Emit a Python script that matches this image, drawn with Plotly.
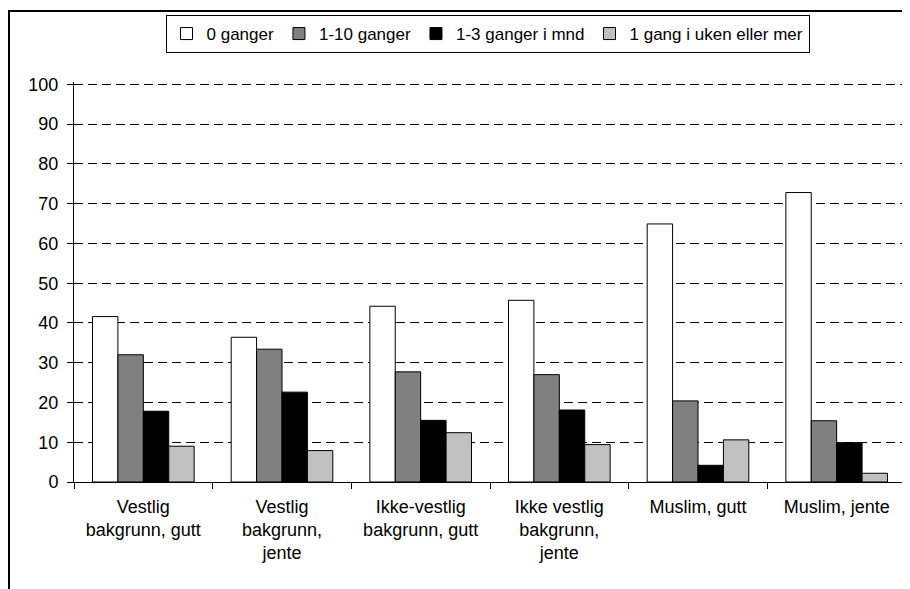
import plotly.graph_objects as go

categories = [
    "Vestlig<br>bakgrunn, gutt",
    "Vestlig<br>bakgrunn,<br>jente",
    "Ikke-vestlig<br>bakgrunn, gutt",
    "Ikke vestlig<br>bakgrunn,<br>jente",
    "Muslim, gutt",
    "Muslim, jente",
]
series_names = ["0 ganger", "1-10 ganger", "1-3 ganger i mnd", "1 gang i uken eller mer"]
v_0_ganger = [41.6, 36.4, 44.2, 45.7, 64.9, 72.8]
v_1_10_ganger = [32.0, 33.4, 27.7, 27.0, 20.4, 15.4]
v_1_3_mnd = [17.8, 22.6, 15.5, 18.1, 4.2, 9.9]
v_1_uke = [9.0, 7.9, 12.4, 9.4, 10.6, 2.2]
series_values = [v_0_ganger, v_1_10_ganger, v_1_3_mnd, v_1_uke]
colors = ["#FFFFFF", "#808080", "#000000", "#C0C0C0"]
y_ticks = list(range(0, 101, 10))

FONT = "Liberation Sans, Arial, sans-serif"

fig = go.Figure()
for name, vals, col in zip(series_names, series_values, colors):
    fig.add_trace(go.Bar(
        x=categories, y=vals, name=name,
        marker=dict(color=col, line=dict(color="#000000", width=1)),
    ))

# The page has an 8px body margin, so figure coords = screen coords - 8.
OFF = 8
W, H = 910, 589
Y_TOP = 100.6
# target on screen: x 74..906, value 0 at y=482, value 100 at y=84
scale = (482 - 84) / 100.0
plot_top_screen = 482 - Y_TOP * scale
l = 74 - OFF
t = int(round(plot_top_screen - OFF))
r = W - (906 - OFF)
b = H - (482 - OFF)
pw = W - l - r
ph = H - t - b

def sx(px):
    return (px - OFF - l) / pw

def sy(py):
    return 1 + (t - (py - OFF)) / ph

fig.add_shape(
    type="rect", xref="paper", yref="paper",
    x0=sx(9), x1=sx(960),
    y0=sy(700), y1=sy(11),
    line=dict(color="#000000", width=2), fillcolor="rgba(0,0,0,0)", layer="below",
)

fig.update_layout(
    width=W, height=H,
    margin=dict(l=l, r=r, t=t, b=b, autoexpand=False),
    paper_bgcolor="white", plot_bgcolor="white",
    font=dict(family=FONT, size=18, color="#000000"),
    barmode="group", bargap=0.267, bargroupgap=0,
    showlegend=True,
    legend=dict(
        orientation="h", x=sx(487.5), xanchor="center",
        y=sy(15), yanchor="top",
        bordercolor="#000000", borderwidth=1, bgcolor="white",
        font=dict(family=FONT, size=17, color="#000000"),
        itemwidth=30, tracegroupgap=0,
    ),
    xaxis=dict(
        showline=True, linecolor="#000000", linewidth=1,
        ticks="outside", ticklen=6, tickcolor="#000000", tickson="boundaries",
        tickfont=dict(family=FONT, size=18, color="#000000"),
        ticklabelstandoff=8,
        showgrid=False, mirror=False, fixedrange=True,
    ),
    yaxis=dict(
        range=[0, Y_TOP], tickvals=y_ticks, ticktext=[str(v) for v in y_ticks],
        showline=True, linecolor="#000000", linewidth=1,
        ticks="outside", ticklen=6, tickcolor="#000000",
        showgrid=True, gridcolor="#000000", gridwidth=1, griddash="9px,5px",
        zeroline=False,
        tickfont=dict(family=FONT, size=18, color="#000000"),
        ticklabelstandoff=5,
    ),
)

fig.write_html("out.html")
